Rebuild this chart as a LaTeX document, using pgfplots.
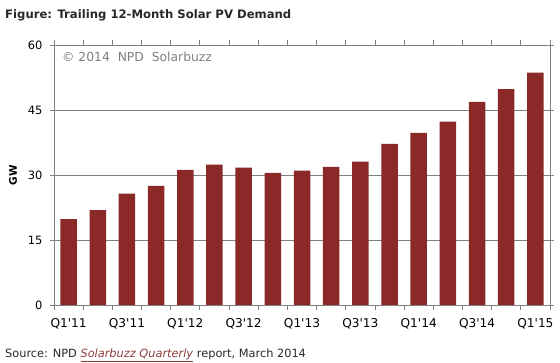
\documentclass[border=0pt]{standalone}
\usepackage{pgfplots}
\pgfplotsset{compat=1.18}
\usepackage{fontspec}
\setmainfont{DejaVu Sans}
\definecolor{barred}{RGB}{139,41,41}
\definecolor{gridgray}{RGB}{128,128,128}
\definecolor{titlegray}{RGB}{40,40,40}
\definecolor{linkred}{RGB}{140,60,60}
\newcommand\q{\textquotesingle}
\begin{document}
\begin{tikzpicture}
\useasboundingbox (-54bp,-58bp) rectangle (506bp,305bp);
\begin{axis}[
  at={(0,0)}, anchor=south west,
  scale only axis, width=496bp, height=260bp,
  xmin=-0.5, xmax=16.5, ymin=0, ymax=60,
  ytick={0,15,...,60},
  xtick={0,2,...,16},
  xticklabels={Q1\q11,Q3\q11,Q1\q12,Q3\q12,Q1\q13,Q3\q13,Q1\q14,Q3\q14,Q1\q15},
  minor xtick={-0.5,0.5,...,16.5},
  major x tick style={draw=none},
  tick align=outside,
  major tick length=4bp,
  minor tick length=5bp,
  tick style={gridgray, line width=0.8bp},
  ymajorgrids,
  grid style={gridgray, line width=0.8bp},
  axis line style={gridgray, line width=0.8bp},
  xticklabel style={font=\fontsize{12.2}{13}\selectfont, yshift=-6bp},
  yticklabel style={font=\fontsize{11.5}{13}\selectfont, xshift=-4bp},
  /pgf/number format/assume math mode=true,
  ybar, bar width=16.5bp,
]
\addplot[fill=barred, draw=none] coordinates {
(0,19.8) (1,21.9) (2,25.7) (3,27.5) (4,31.2) (5,32.4) (6,31.7) (7,30.5) (8,31.0)
(9,31.9) (10,33.1) (11,37.2) (12,39.7) (13,42.3) (14,46.9) (15,49.8) (16,53.6)};
\end{axis}
\node[anchor=base west, inner sep=0pt, text=titlegray, font=\fontsize{11.7}{13}\selectfont\bfseries] at (-49bp,286bp) {Figure: Trailing 12-Month Solar PV Demand};
\node[anchor=base west, inner sep=0pt, text=gridgray, font=\fontsize{12.4}{14}\selectfont] at (8bp,243bp) {©\ 2014\ \ NPD\ \ Solarbuzz};
\node[rotate=90, font=\fontsize{10.5}{12}\selectfont\bfseries] at (-41bp,130bp) {GW};
\node[anchor=base west, inner sep=0pt, text=titlegray, font=\fontsize{11.4}{13}\selectfont] at (-49bp,-52bp) {Source: NPD \textcolor{linkred}{\underline{\textit{Solarbuzz Quarterly}}} report, March 2014};
\end{tikzpicture}
\end{document}
